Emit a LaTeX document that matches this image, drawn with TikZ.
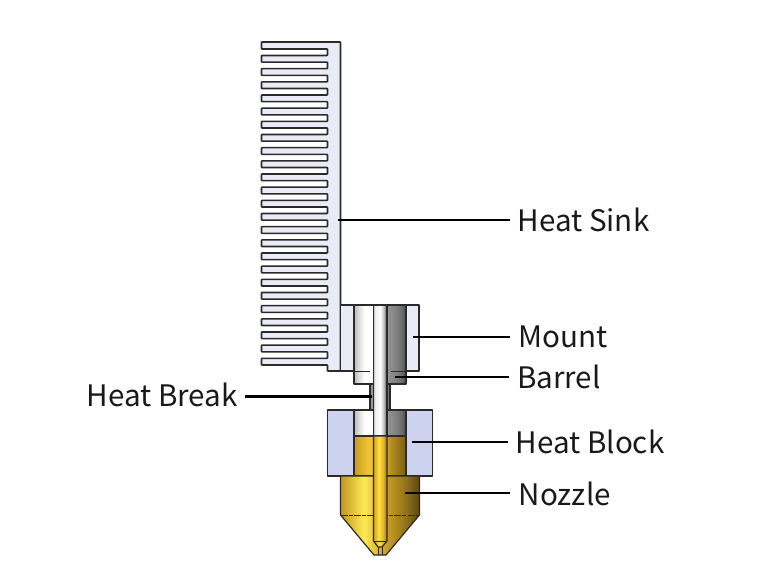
\documentclass[tikz,border=0pt]{standalone}
\usepackage{fontspec}
\setmainfont{Noto Sans CJK SC}
\definecolor{lightblue}{HTML}{E9ECF6}
\definecolor{blockblue}{HTML}{CDD3EE}
\definecolor{edgedark}{HTML}{2A2A2A}
\pgfdeclarehorizontalshading{barrelshade}{100bp}{
 gray(0bp)=(0.72);gray(25bp)=(0.72);gray(29bp)=(0.85);gray(35bp)=(1);gray(44bp)=(1);
 gray(50bp)=(0.72);gray(55bp)=(0.6);gray(66bp)=(0.5);gray(71bp)=(0.42);gray(75bp)=(0.28);gray(100bp)=(0.28)}
\pgfdeclarehorizontalshading{tubeshade}{100bp}{
 gray(0bp)=(0.75);gray(25bp)=(0.75);gray(32bp)=(0.95);gray(50bp)=(1);gray(62bp)=(0.78);gray(75bp)=(0.3);gray(100bp)=(0.3)}
\pgfdeclarehorizontalshading{breakshade}{100bp}{
 gray(0bp)=(0.6);gray(25bp)=(0.6);gray(75bp)=(0.45);gray(100bp)=(0.45)}
\pgfdeclarehorizontalshading{brassshade}{100bp}{
 rgb(0bp)=(0.76,0.59,0.12);rgb(25bp)=(0.76,0.59,0.12);rgb(40bp)=(1,0.92,0.34);rgb(50bp)=(0.86,0.68,0.16);rgb(66bp)=(0.58,0.45,0.1);rgb(75bp)=(0.36,0.28,0.07);rgb(100bp)=(0.36,0.28,0.07)}
\pgfdeclarehorizontalshading{innerbrass}{100bp}{
 rgb(0bp)=(0.78,0.61,0.13);rgb(25bp)=(0.78,0.61,0.13);rgb(38bp)=(0.93,0.76,0.2);rgb(50bp)=(0.95,0.8,0.2);rgb(60bp)=(0.72,0.56,0.12);rgb(75bp)=(0.47,0.37,0.08);rgb(100bp)=(0.47,0.37,0.08)}
\pgfdeclarehorizontalshading{boreshade}{100bp}{
 rgb(0bp)=(0.82,0.64,0.13);rgb(25bp)=(0.82,0.64,0.13);rgb(45bp)=(1,0.88,0.25);rgb(60bp)=(0.9,0.72,0.16);rgb(75bp)=(0.6,0.46,0.09);rgb(100bp)=(0.6,0.46,0.09)}
\definecolor{dashbrown}{HTML}{3A3010}
\tikzset{
 x=1pt,y=-1pt,
 part/.style={draw=edgedark,line width=1.2pt,line join=round},
 combline/.style={draw=edgedark,line width=1.6pt,line join=round},
 thinline/.style={draw=edgedark,line width=.8pt},
 leader/.style={draw=black,line width=2.6pt},
 callout/.style={font=\fontsize{29.6}{32}\selectfont,inner sep=0pt,anchor=west,text=black!90}
}
\begin{document}
\begin{tikzpicture}
\useasboundingbox (0,0) rectangle (773,583);
% heat sink comb
\draw[combline,fill=lightblue,rounded corners=.6pt] (340.5,42) -- (261.5,42)
 \foreach \i in {0,...,23}{
  -- ({261.5},{42.3+13.167*\i+6.7}) -- ({327.5},{42.3+13.167*\i+6.7})
  -- ({327.5},{42.3+13.167*(\i+1)}) -- ({261.5},{42.3+13.167*(\i+1)})
 }
 -- (261.5,365) -- (327.5,365) -- (327.5,371) -- (340.5,371) -- cycle;
% mount
\draw[part,fill=lightblue] (340.5,305) rectangle (419,371);
% barrel
\draw[part,shade,shading=barrelshade] (354,305) rectangle (406,384);
\draw[thinline] (354,371) -- (370,371) (391,371) -- (406,371);
% heat break
\draw[part,shade,shading=breakshade] (370,384) rectangle (390,412);
% heat block
\draw[part,fill=blockblue] (327.5,410) rectangle (432.5,476);
% silver above brass
\draw[part,shade,shading=barrelshade] (354,410) rectangle (406,436);
% brass inside block
\draw[part,shade,shading=innerbrass] (354,436) rectangle (406,476);
% nozzle
\draw[part,shade,shading=brassshade] (340.5,476) -- (419.5,476) -- (419.5,515) -- (386,555) -- (374,555) -- (340.5,515) -- cycle;
\draw[draw=dashbrown,line width=.9pt,dash pattern=on 7pt off 1.2pt on 4pt off 1.2pt] (340.5,515) -- (419.5,515);
% tube and bore
\draw[part,shade,shading=tubeshade] (373.5,305) rectangle (387,436);
\draw[part,shade,shading=boreshade] (373.5,436) -- (387,436) -- (387,541) -- (382,547) -- (378,547) -- (373.5,541) -- cycle;
\draw[thinline] (373.5,541) -- (387,541);
\draw[thinline] (378,547) -- (378,555) (382,547) -- (382,555);
% coordinates
\coordinate (sinkend) at (337.5,220);
\coordinate (mountend) at (412.5,337);
\coordinate (barrelend) at (395,377);
\coordinate (breakend) at (372,396.5);
\coordinate (blockend) at (412,442);
\coordinate (nozzleend) at (405,493);
% labels
\node[callout] (sink) at (517.5,220) {Heat Sink};
\node[callout] (mountlabel) at (518,337) {Mount};
\node[callout] (barrellabel) at (517,377) {Barrel};
\node[callout,anchor=east] (breaklabel) at (238,395) {Heat Break};
\node[callout] (blocklabel) at (515.5,442) {Heat Block};
\node[callout] (nozzlelabel) at (518.5,494) {Nozzle};
% leaders
\draw[leader] ([xshift=-8pt]sink.west |- sinkend) -- (sinkend);
\draw[leader] ([xshift=-8pt]mountlabel.west |- mountend) -- (mountend);
\draw[leader] ([xshift=-8pt]barrellabel.west |- barrelend) -- (barrelend);
\draw[leader] ([xshift=7pt]breaklabel.east |- breakend) -- (breakend);
\draw[leader] ([xshift=-8pt]blocklabel.west |- blockend) -- (blockend);
\draw[leader] ([xshift=-9pt]nozzlelabel.west |- nozzleend) -- (nozzleend);
\end{tikzpicture}
\end{document}
